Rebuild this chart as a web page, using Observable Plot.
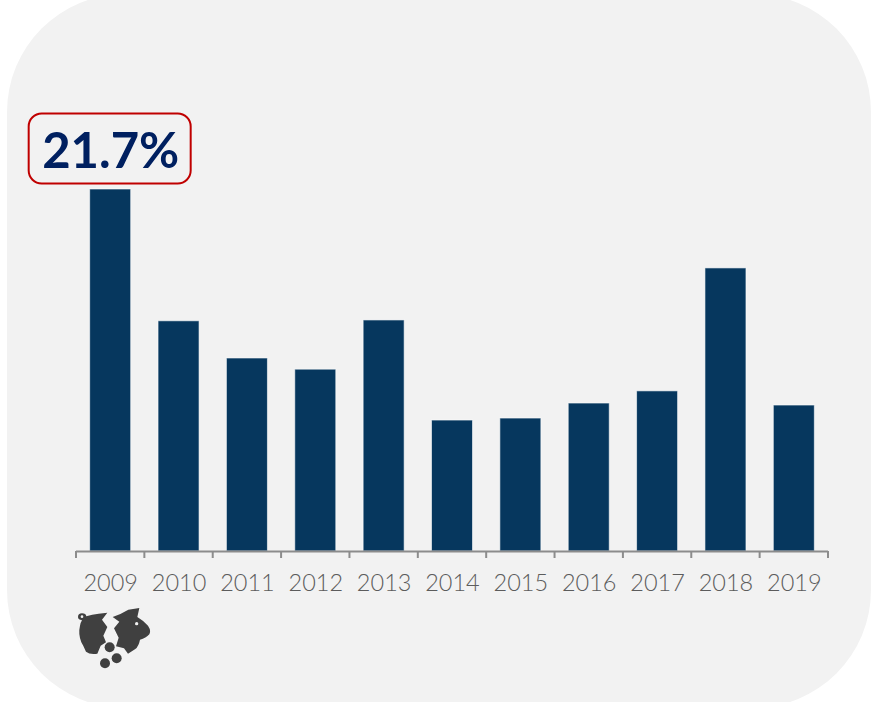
<!DOCTYPE html>
<html>
<head>
<meta charset="utf-8">
<script src="https://cdn.jsdelivr.net/npm/d3@7"></script>
<script src="https://cdn.jsdelivr.net/npm/@observablehq/plot@0.6"></script>
<style>
  html, body { margin: 0; padding: 0; background: #fff; }
  #stage { position: relative; width: 871px; height: 702px; overflow: hidden; }
  #panel { position: absolute; left: 7px; top: -6px; width: 864px; height: 714px; background: #f2f2f2; border-radius: 118px; }
  #chart { position: absolute; left: 0; top: 0; }
  #chart svg { background: transparent; display: block; }
  #piggy { position: absolute; left: 77px; top: 608px; }
</style>
</head>
<body>
<div id="stage">
  <div id="panel"></div>
  <div id="chart"></div>
  <!-- Broken piggy bank pictogram under the first year -->
  <svg id="piggy" width="74" height="62" viewBox="52 205 220 186">
    <g fill="#404040">
      <path d="M54 232 Q54 221 66 221 Q78 221 79 230 Q96 224 116 222 L142 219 L126 240 L142 262 L130 288 L138 308 L122 318 L112 342 Q90 346 78 336 Q70 318 64 308 Q54 282 60 258 Q62 248 66 242 Q54 240 54 232 Z"/>
      <path d="M158 232 Q182 224 205 210 L238 205 L232 232 Q252 244 264 258 Q274 272 268 284 Q258 296 240 300 Q236 320 226 328 L204 342 L192 326 L168 320 L176 294 L162 266 L178 246 Z"/>
      <circle cx="149" cy="323" r="15"/>
      <circle cx="170" cy="356" r="15"/>
      <circle cx="135" cy="371" r="15"/>
    </g>
    <circle cx="66" cy="231" r="4" fill="#f2f2f2"/>
    <circle cx="230" cy="252" r="5" fill="#f2f2f2"/>
  </svg>
</div>
<script>
const years = ["2009","2010","2011","2012","2013","2014","2015","2016","2017","2018","2019"];
const rates = [21.7, 13.8, 11.57, 10.9, 13.85, 7.85, 7.97, 8.87, 9.6, 16.97, 8.75];
const calloutYear = "2009";
const calloutValue = 21.7;
const rows = years.map((year, i) => ({year, rate: rates[i]}));

const barColor = "#06375e";
const axisColor = "#8c8c8c";
const labelColor = "#5c5c5c";
const calloutInk = "#002060";
const calloutEdge = "#c00000";

// Bracket-style axis: a tick on each boundary between year bands
function bandEdgeTicks(index, {x, y}) {
  const g = d3.create("svg:g").attr("stroke", axisColor).attr("stroke-width", 2);
  const half = x.step() / 2;
  const center = d => x(d) + x.bandwidth() / 2;
  const edges = years.map(d => center(d) - half);
  edges.push(center(years[years.length - 1]) + half);
  const base = y(0);
  for (const e of edges) {
    g.append("line").attr("x1", e).attr("x2", e).attr("y1", base).attr("y2", base + 7);
  }
  return g.node();
}

// Rounded outline around the value sitting on top of its bar
function calloutBox(index, {x, y}) {
  const cx = x(calloutYear) + x.bandwidth() / 2;
  const top = y(calloutValue);
  return d3.create("svg:rect")
    .attr("x", cx - 81.5).attr("y", top - 75.5)
    .attr("width", 162).attr("height", 70).attr("rx", 13)
    .attr("fill", "none").attr("stroke", calloutEdge).attr("stroke-width", 2)
    .node();
}

const plot = Plot.plot({
  width: 871,
  height: 702,
  marginLeft: 76,
  marginRight: 43,
  style: {background: "transparent", overflow: "visible"},
  x: {domain: years, paddingInner: 0.4, paddingOuter: 0.2, round: false, label: null},
  y: {domain: [0, 21.7], range: [551, 189], axis: null},
  marks: [
    Plot.barY(rows, {x: "year", y: "rate", fill: barColor, stroke: "#ffffff", strokeOpacity: 0.6, strokeWidth: 1}),
    Plot.ruleY([0], {stroke: axisColor, strokeWidth: 2}),
    bandEdgeTicks,
    Plot.axisX({
      tickSize: 0, tickPadding: 0, anchor: "bottom", label: null,
      fontSize: 23.5, fontFamily: "Lato", fontWeight: 300, fill: labelColor,
      dy: 23, y: 0
    }),
    calloutBox,
    Plot.text([{year: calloutYear, rate: calloutValue}], {
      x: "year", y: "rate", text: d => d.rate.toFixed(1) + "%",
      dy: -37, fill: calloutInk, fontSize: 49, fontWeight: 700, fontFamily: "Lato"
    })
  ]
});
document.getElementById("chart").append(plot);
</script>
</body>
</html>
